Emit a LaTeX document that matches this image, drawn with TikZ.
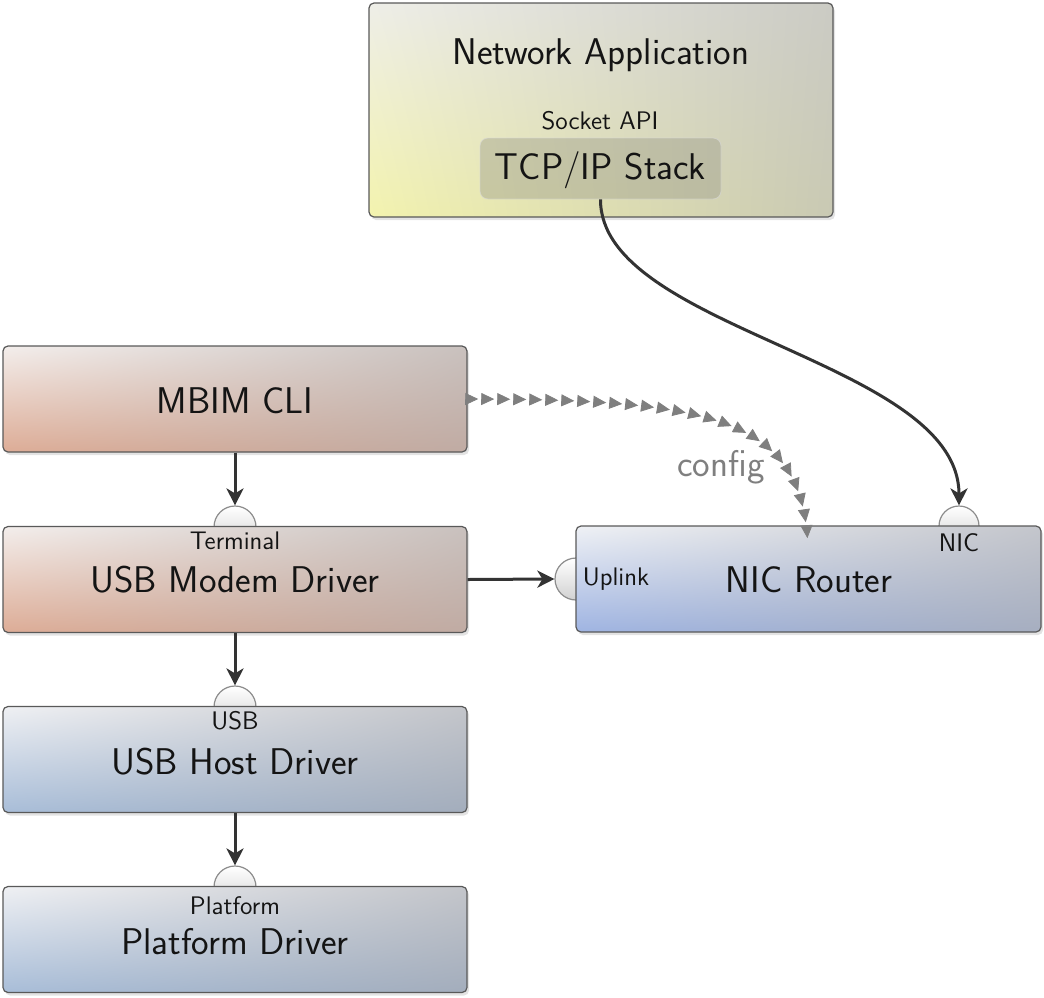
\documentclass[tikz,border=0pt]{standalone}
\usetikzlibrary{shadings,shadows,arrows.meta,decorations.markings}
\definecolor{appUL}{HTML}{EEEEE8}
\definecolor{appUR}{HTML}{CBCBC4}
\definecolor{appLL}{HTML}{F3F3AE}
\definecolor{appLR}{HTML}{C9C9B3}
\definecolor{redUL}{HTML}{F3EEEC}
\definecolor{redUR}{HTML}{C9C1BE}
\definecolor{redLL}{HTML}{DDAC96}
\definecolor{redLR}{HTML}{C0ABA3}
\definecolor{bluUL}{HTML}{EFF0F3}
\definecolor{bluUR}{HTML}{C3C5CA}
\definecolor{bluLL}{HTML}{A8BDD8}
\definecolor{bluLR}{HTML}{A3ADBC}
\definecolor{nicUL}{HTML}{EFF1F5}
\definecolor{nicUR}{HTML}{C4C6CC}
\definecolor{nicLL}{HTML}{9FB4E2}
\definecolor{nicLR}{HTML}{A6AEC0}
\definecolor{conncol}{HTML}{333333}
\definecolor{cfgcol}{HTML}{7F7F7F}
\begin{document}
\begin{tikzpicture}[x=0.5pt,y=-0.5pt,font=\sffamily]
\tikzset{
  comp/.style={draw=black!65, line width=0.6pt, rounded corners=2.5pt, inner sep=0pt,
    minimum width=232pt, minimum height=53pt,
    drop shadow={opacity=0.22, shadow xshift=1pt, shadow yshift=-1.5pt}},
  appbox/.style={comp, upper left=appUL, upper right=appUR, lower left=appLL, lower right=appLR},
  redbox/.style={comp, upper left=redUL, upper right=redUR, lower left=redLL, lower right=redLR},
  blubox/.style={comp, upper left=bluUL, upper right=bluUR, lower left=bluLL, lower right=bluLR},
  nicbox/.style={comp, upper left=nicUL, upper right=nicUR, lower left=nicLL, lower right=nicLR},
  bigtext/.style={font=\sffamily\fontsize{18.6}{22}\selectfont, text=black!92, inner sep=0pt},
  smalltext/.style={font=\sffamily\fontsize{12.7}{15}\selectfont, text=black!92, inner sep=0pt},
  socket/.style={circle, draw=black!45, line width=0.6pt, top color=white, bottom color=black!18, minimum size=#1, inner sep=0pt},
  conn/.style={draw=conncol, line width=1.5pt, -{Stealth[length=8.5pt,width=8.5pt,inset=2.5pt]}},
  cfg/.style={decoration={markings, mark=between positions 0.025 and 1 step 8pt with {\arrow{Triangle[length=6.5pt,width=6pt]}}}, color=cfgcol, postaction={decorate}},
}
\useasboundingbox (0,0) rectangle (1044,997);

% sockets (drawn first, boxes cover half)
\node[socket=21pt] (termsock) at (235,527) {};
\node[socket=21pt] (usbsock) at (235,707) {};
\node[socket=21pt] (platsock) at (235,887) {};
\node[socket=21pt] (uplinksock) at (576,579) {};
\node[socket=20pt] (nicsock) at (959,526) {};

% boxes
\node[appbox, minimum height=107pt] (app) at (601,110) {};
\node[bigtext] (apptext) at (601,55) {Network Application};
\node[smalltext] (sockapi) at (600,121) {Socket API};
\node[draw=black!15, fill=black!25!appLR, fill opacity=0.4, draw opacity=0.6, rounded corners=4pt,
      minimum width=120.5pt, minimum height=30.5pt, inner sep=0pt] (tcp) at (600.5,168.5) {};
\node[bigtext] (tcptext) at (600.5,170) {TCP/IP Stack};

\node[redbox] (mbim) at (235,399) {};
\node[bigtext] (mbimtext) at (235,401) {MBIM CLI};

\node[redbox] (modem) at (235,579.5) {};
\node[smalltext] (termlbl) at (235,541) {Terminal};
\node[bigtext] (modemtext) at (235,580) {USB Modem Driver};

\node[blubox] (host) at (235,759.5) {};
\node[smalltext] (usblbl) at (235,721) {USB};
\node[bigtext] (hosttext) at (235,762) {USB Host Driver};

\node[blubox] (plat) at (235,939.5) {};
\node[smalltext] (platlbl) at (235,906) {Platform};
\node[bigtext] (plattext) at (235,942) {Platform Driver};

\node[nicbox, minimum width=232.5pt] (nic) at (808.5,579) {};
\node[bigtext] (nictext) at (809,580) {NIC Router};
\node[smalltext] (uplinklbl) at (616,579) {Uplink};
\node[smalltext] (niclbl) at (959,543) {NIC};

% connectors
\draw[conn] (mbim.south) -- (termsock.north);
\draw[conn] (modem.south) -- (usbsock.north);
\draw[conn] (host.south) -- (platsock.north);
\draw[conn] (modem.east) -- (uplinksock.west);
\draw[conn] (tcp.south) .. controls (600,330) and (959,360) .. (nicsock.north);
\coordinate (cfgend) at (808,553);
\path[cfg] (mbim.east) .. controls (720,399) and (806,420) .. (cfgend);
\node[bigtext, text=cfgcol] (cfglbl) at (721,467) {config};
\end{tikzpicture}
\end{document}
